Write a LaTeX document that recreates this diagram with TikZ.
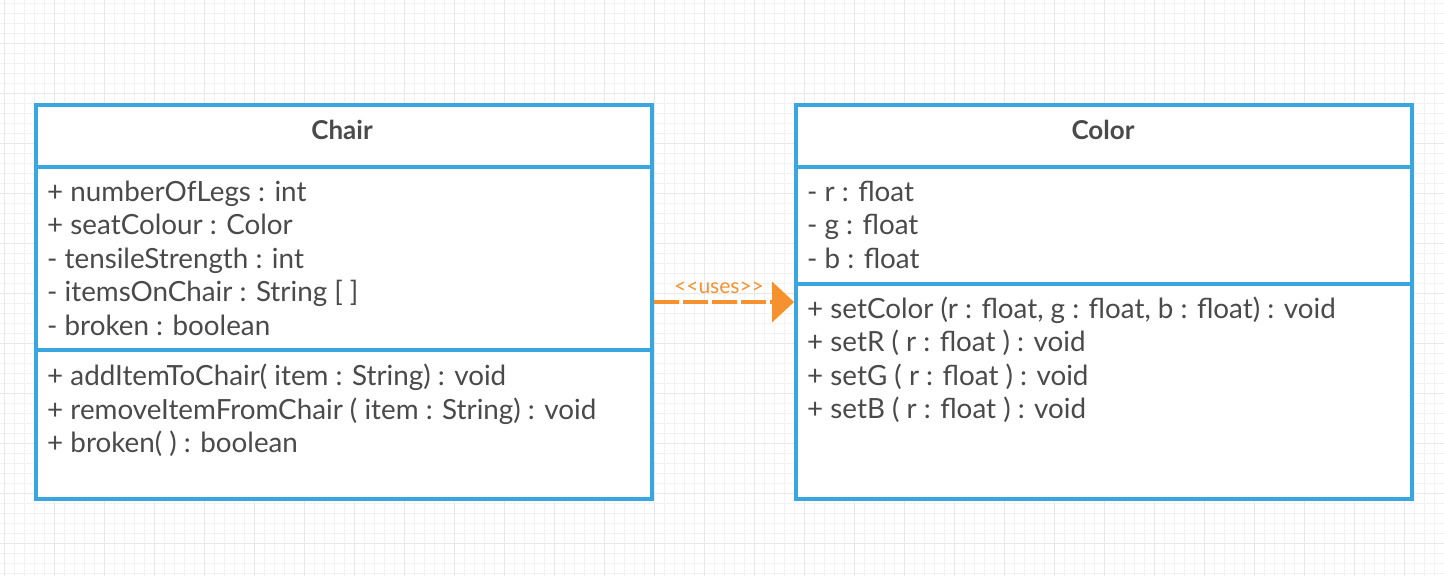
\documentclass[tikz,border=0pt]{standalone}
\usepackage{fontspec}
\setmainfont{Lato}
\usetikzlibrary{arrows.meta}
\definecolor{umlblue}{HTML}{3AA6E0}
\definecolor{umltext}{HTML}{4A4A4A}
\definecolor{usesorange}{HTML}{F5922F}
\definecolor{gridfine}{HTML}{F2F2F2}
\definecolor{gridbold}{HTML}{E8E8E8}
\begin{document}
\begin{tikzpicture}[x=1pt,y=-1pt,
  classbox/.style={draw=umlblue, line width=4pt, fill=white, minimum width=616pt, minimum height=394pt, inner sep=0pt},
  divider/.style={draw=umlblue, line width=4pt},
  classtitle/.style={anchor=base, font=\fontsize{26}{30}\selectfont\bfseries, text=umltext, inner sep=0pt},
  member/.style={anchor=base west, font=\fontsize{27.8}{32}\selectfont, text=umltext, inner sep=0pt},
  uses/.style={draw=usesorange, line width=4pt, dash pattern=on 25pt off 4pt, -{Triangle[length=22pt,width=40pt]}},
  useslabel/.style={font=\fontsize{21}{24}\selectfont, text=usesorange, inner sep=0pt},
]
\fill[white] (0,0) rectangle (1444,576);
\useasboundingbox (0,0) rectangle (1444,576);
% background grid
\foreach \i in {0,...,144} \draw[gridfine, line width=1pt] (4+10*\i,0) -- (4+10*\i,576);
\foreach \i in {0,...,57} \draw[gridfine, line width=1pt] (0,3+10*\i) -- (1444,3+10*\i);
\foreach \i in {0,...,28} \draw[gridbold, line width=1pt] (4+50*\i,0) -- (4+50*\i,576);
\foreach \i in {0,...,11} \draw[gridbold, line width=1pt] (0,43+50*\i) -- (1444,43+50*\i);

% Chair class
\node[classbox] (chair) at (344,302) {};
\draw[divider] (chair.north west |- 0,167) -- (chair.north east |- 0,167);
\draw[divider] (chair.north west |- 0,350) -- (chair.north east |- 0,350);
\node[classtitle] (chairtitle) at (342,139) {Chair};
\node[member] (c1) at (47,201) {+ numberOfLegs : int};
\node[member] (c2) at (47,234) {+ seatColour : Color};
\node[member] (c3) at (47,268) {- tensileStrength : int};
\node[member] (c4) at (47,301) {- itemsOnChair : String [ ]};
\node[member] (c5) at (47,335) {- broken : boolean};
\node[member] (c6) at (47,385) {+ addItemToChair( item : String) : void};
\node[member] (c7) at (47,419) {+ removeItemFromChair ( item : String) : void};
\node[member] (c8) at (47,452) {+ broken( ) : boolean};

% Color class
\node[classbox] (color) at (1104,302) {};
\draw[divider] (color.north west |- 0,167) -- (color.north east |- 0,167);
\draw[divider] (color.north west |- 0,284) -- (color.north east |- 0,284);
\node[classtitle] (colortitle) at (1103,139) {Color};
\node[member] (k1) at (807,201) {- r : float};
\node[member] (k2) at (807,234) {- g : float};
\node[member] (k3) at (807,268) {- b : float};
\node[member] (k4) at (807,318) {+ setColor (r : float, g : float, b : float) : void};
\node[member] (k5) at (807,351) {+ setR ( r : float ) : void};
\node[member] (k6) at (807,385) {+ setG ( r : float ) : void};
\node[member] (k7) at (807,418) {+ setB ( r : float ) : void};

% dependency
\draw[uses] (chair.east) -- (color.west);
\node[useslabel] (useslbl) at (719,288) {<\kern0pt<uses>\kern0pt>};
\end{tikzpicture}
\end{document}
